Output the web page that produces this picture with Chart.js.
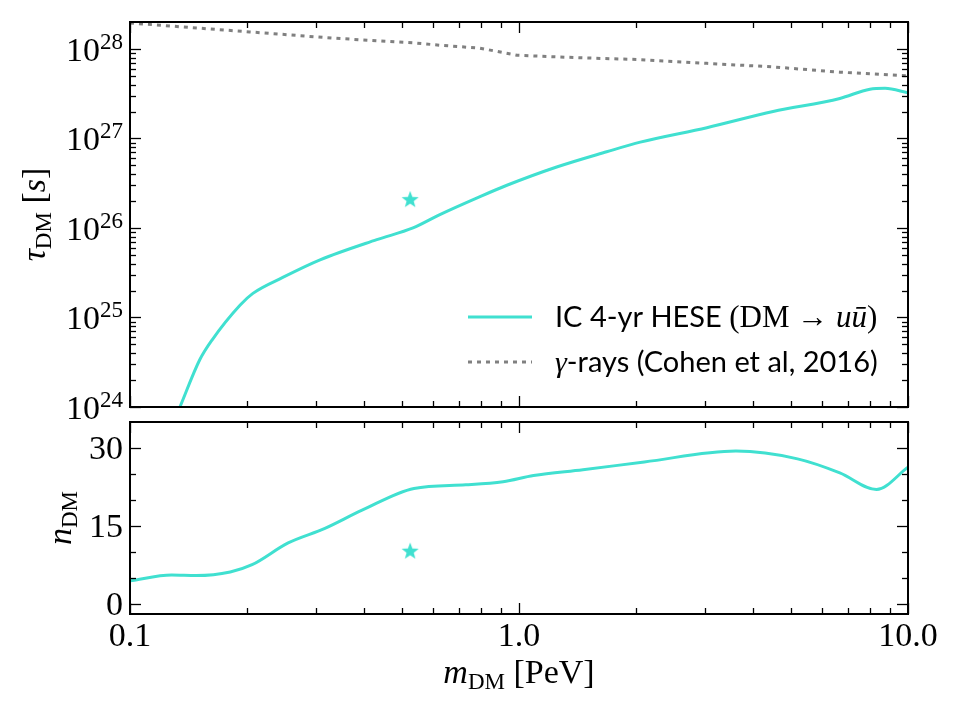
<!DOCTYPE html>
<html>

<head>
    <title>DM lifetime limits</title>
    <script src="https://cdn.jsdelivr.net/npm/chart.js"></script>
    <style>
        body { margin: 0; background: #fff; }
        #wrap { position: relative; width: 960px; height: 720px; }
        #wrap canvas { position: absolute; left: 0; top: 0; }
    </style>
</head>

<body>
    <div id="wrap">
        <canvas id="tauChart" width="960" height="720"></canvas>
        <canvas id="nChart" width="960" height="720"></canvas>
    </div>

    <script>
        // IceCube 4-yr HESE lifetime limit (DM -> u ubar), seconds
        var massIC = [0.1344, 0.151, 0.1625, 0.192, 0.207, 0.247, 0.308, 0.431, 0.534, 0.626, 0.794, 0.931, 1.25, 1.68, 2.05, 3.04, 4.5, 6.68, 7.98, 8.73, 10];
        var tauIC = [1.0e24, 3.35e24, 5.6e24, 1.38e25, 1.86e25, 2.8e25, 4.4e25, 7.4e25, 1.0e26, 1.41e26, 2.24e26, 3.0e26, 4.8e26, 7.1e26, 9.1e26, 1.32e27, 2.0e27, 2.8e27, 3.55e27, 3.63e27, 3.24e27];

        // gamma-ray limit (Cohen et al, 2016)
        var massGamma = [0.1, 0.203, 0.333, 0.534, 0.626, 0.794, 0.988, 1.4, 2.05, 3.04, 4.5, 6.68, 10];
        var tauGamma = [1.95e28, 1.55e28, 1.32e28, 1.17e28, 1.10e28, 1.02e28, 8.5e27, 8.0e27, 7.6e27, 6.9e27, 6.3e27, 5.5e27, 5.0e27];

        // spectral index n_DM
        var massN = [0.1, 0.128, 0.148, 0.181, 0.206, 0.255, 0.317, 0.395, 0.537, 0.73, 0.91, 1.09, 1.46, 2.1, 3.61, 5.2, 6.68, 8.3, 10];
        var nIC = [4.4, 5.5, 5.4, 6.1, 7.5, 11.7, 14.5, 18.0, 22.2, 22.9, 23.5, 24.7, 25.8, 27.3, 29.4, 27.9, 25.2, 22.0, 26.3];

        // best fit point
        var starMass = [0.525];
        var starTau = [2.1e26];
        var starN = [10.2];

        // ticks
        var xMajor = [0.1, 1, 10];
        var xTickLabels = ['0.1', '1.0', '10.0'];
        var tauExponents = [24, 25, 26, 27, 28];
        var nMajor = [0, 15, 30];
        var nMinor = [5, 10, 20, 25];

        var TURQ = '#40E0D0';
        var SERIF = '"Liberation Serif", "DejaVu Serif", serif';
        var SANS = 'Lato, "Open Sans", sans-serif';

        var xMinor = [];
        [0.1, 1].forEach(function (d) {
            for (var k = 2; k <= 9; k++) xMinor.push(k * d);
        });
        var tauMajor = tauExponents.map(function (e) { return Math.pow(10, e); });
        var tauMinor = [];
        tauExponents.slice(0, 4).forEach(function (e) {
            for (var k = 2; k <= 9; k++) tauMinor.push(k * Math.pow(10, e));
        });

        function pairs(xs, ys) {
            return xs.map(function (v, i) { return { x: v, y: ys[i] }; });
        }

        // filled five point star for the marker
        function makeStar(r, color) {
            var c = document.createElement('canvas');
            c.width = c.height = 2 * r + 2;
            var g = c.getContext('2d');
            g.fillStyle = color;
            g.beginPath();
            for (var i = 0; i < 10; i++) {
                var rad = i % 2 ? r * 0.42 : r;
                var a = -Math.PI / 2 + i * Math.PI / 5;
                g.lineTo(r + 1 + rad * Math.cos(a), r + 1.8 + rad * Math.sin(a));
            }
            g.closePath();
            g.fill();
            return c;
        }
        var starImg = makeStar(9, TURQ);

        // draw text made of several pieces (fonts / offsets)
        function drawRich(ctx, parts, x, y, align) {
            var w = 0;
            parts.forEach(function (p) { ctx.font = p.font; w += ctx.measureText(p.t).width; });
            var cx = align === 'center' ? x - w / 2 : (align === 'right' ? x - w : x);
            ctx.textAlign = 'left';
            ctx.textBaseline = 'alphabetic';
            parts.forEach(function (p) {
                ctx.font = p.font;
                ctx.fillText(p.t, cx, y + (p.dy || 0));
                cx += ctx.measureText(p.t).width;
            });
        }

        function line(ctx, x1, y1, x2, y2) {
            ctx.beginPath();
            ctx.moveTo(x1, y1);
            ctx.lineTo(x2, y2);
            ctx.stroke();
        }

        // inward ticks on all four sides + frame, like matplotlib
        function drawFrame(chart, yMaj, yMin) {
            var ctx = chart.ctx, a = chart.chartArea;
            var xs = chart.scales.x, ys = chart.scales.y;
            ctx.save();
            ctx.strokeStyle = '#000';
            ctx.lineWidth = 1.3;
            function xt(v, len) {
                var p = Math.round(xs.getPixelForValue(v)) + 0.5;
                line(ctx, p, a.bottom, p, a.bottom - len);
                line(ctx, p, a.top, p, a.top + len);
            }
            function yt(v, len) {
                var p = Math.round(ys.getPixelForValue(v)) + 0.5;
                line(ctx, a.left, p, a.left + len, p);
                line(ctx, a.right, p, a.right - len, p);
            }
            xMajor.forEach(function (v) { xt(v, 11); });
            xMinor.forEach(function (v) { xt(v, 6); });
            yMaj.forEach(function (v) { yt(v, 11); });
            yMin.forEach(function (v) { yt(v, 6); });
            ctx.lineWidth = 2;
            ctx.strokeRect(a.left, a.top, a.right - a.left, a.bottom - a.top);
            ctx.restore();
        }

        function rotatedTitle(ctx, parts, bx, cy) {
            ctx.save();
            ctx.translate(bx, cy);
            ctx.rotate(-Math.PI / 2);
            drawRich(ctx, parts, 0, 0, 'center');
            ctx.restore();
        }

        var tauDecor = {
            id: 'tauDecor',
            afterDatasetsDraw: function (chart) {
                var ctx = chart.ctx, a = chart.chartArea, ys = chart.scales.y;
                drawFrame(chart, tauMajor, tauMinor);
                ctx.save();
                ctx.fillStyle = '#000';
                tauExponents.forEach(function (e) {
                    var p = ys.getPixelForValue(Math.pow(10, e));
                    drawRich(ctx, [
                        { t: '10', font: '34px ' + SERIF, dy: 12 },
                        { t: String(e), font: '23px ' + SERIF, dy: 0 }
                    ], 123, p, 'right');
                });
                rotatedTitle(ctx, [
                    { t: '\u03C4', font: 'italic 34px ' + SERIF },
                    { t: 'DM', font: '23px ' + SERIF, dy: 6 },
                    { t: ' [', font: '34px ' + SERIF },
                    { t: 's', font: 'italic 34px ' + SERIF },
                    { t: ']', font: '34px ' + SERIF }
                ], 45, (a.top + a.bottom) / 2);

                // legend
                ctx.lineWidth = 3;
                ctx.strokeStyle = TURQ;
                line(ctx, 468, 317, 532, 317);
                ctx.strokeStyle = '#808080';
                ctx.lineWidth = 3;
                ctx.setLineDash([4, 5]);
                line(ctx, 468, 362, 532, 362);
                ctx.setLineDash([]);
                drawRich(ctx, [
                    { t: 'IC 4-yr HESE ', font: '29px ' + SANS },
                    { t: '(DM \u2192 ', font: '31px ' + SERIF },
                    { t: 'u\u016B', font: 'italic 31px ' + SERIF },
                    { t: ')', font: '31px ' + SERIF }
                ], 555, 327, 'left');
                drawRich(ctx, [
                    { t: '\u03B3', font: 'italic 30px ' + SERIF },
                    { t: '-rays (Cohen et al, 2016)', font: '29px ' + SANS }
                ], 555, 372, 'left');
                ctx.restore();
            }
        };

        var nDecor = {
            id: 'nDecor',
            afterDatasetsDraw: function (chart) {
                var ctx = chart.ctx, a = chart.chartArea, xs = chart.scales.x, ys = chart.scales.y;
                drawFrame(chart, nMajor, nMinor);
                ctx.save();
                ctx.fillStyle = '#000';
                ctx.font = '34px ' + SERIF;
                ctx.textAlign = 'right';
                ctx.textBaseline = 'alphabetic';
                nMajor.forEach(function (v) {
                    ctx.fillText(String(v), 123, ys.getPixelForValue(v) + 11);
                });
                ctx.textAlign = 'center';
                xMajor.forEach(function (v, i) {
                    ctx.fillText(xTickLabels[i], xs.getPixelForValue(v), 646);
                });
                rotatedTitle(ctx, [
                    { t: 'n', font: 'italic 34px ' + SERIF },
                    { t: 'DM', font: '23px ' + SERIF, dy: 6 }
                ], 71, (a.top + a.bottom) / 2);
                drawRich(ctx, [
                    { t: 'm', font: 'italic 34px ' + SERIF },
                    { t: 'DM', font: '23px ' + SERIF, dy: 6 },
                    { t: ' [PeV]', font: '34px ' + SERIF }
                ], (a.left + a.right) / 2, 683, 'center');
                ctx.restore();
            }
        };

        var common = {
            responsive: false,
            animation: false,
            plugins: { legend: { display: false }, tooltip: { enabled: false } },
            elements: { point: { radius: 0 } }
        };

        new Chart(document.getElementById('tauChart'), {
            type: 'line',
            data: {
                datasets: [{
                    label: 'IC 4-yr HESE (DM -> u ubar)',
                    data: pairs(massIC, tauIC),
                    borderColor: TURQ,
                    borderWidth: 3,
                    pointRadius: 0,
                    cubicInterpolationMode: 'monotone'
                }, {
                    label: 'gamma-rays (Cohen et al, 2016)',
                    data: pairs(massGamma, tauGamma),
                    borderColor: '#808080',
                    borderWidth: 3,
                    borderDash: [4, 5],
                    pointRadius: 0
                }, {
                    label: 'best fit',
                    data: pairs(starMass, starTau),
                    showLine: false,
                    pointStyle: starImg,
                    pointRadius: 9
                }]
            },
            options: Object.assign({}, common, {
                layout: { padding: { left: 130, right: 52, top: 22, bottom: 313 } },
                scales: {
                    x: { type: 'logarithmic', min: 0.1, max: 10, display: false },
                    y: { type: 'logarithmic', min: 1e24, max: 2e28, display: false }
                }
            }),
            plugins: [tauDecor]
        });

        new Chart(document.getElementById('nChart'), {
            type: 'line',
            data: {
                datasets: [{
                    label: 'n_DM',
                    data: pairs(massN, nIC),
                    borderColor: TURQ,
                    borderWidth: 3,
                    pointRadius: 0,
                    cubicInterpolationMode: 'monotone'
                }, {
                    label: 'best fit',
                    data: pairs(starMass, starN),
                    showLine: false,
                    pointStyle: starImg,
                    pointRadius: 9
                }]
            },
            options: Object.assign({}, common, {
                layout: { padding: { left: 130, right: 52, top: 422, bottom: 106 } },
                scales: {
                    x: { type: 'logarithmic', min: 0.1, max: 10, display: false },
                    y: { type: 'linear', min: -2, max: 35, display: false }
                }
            }),
            plugins: [nDecor]
        });
    </script>
</body>

</html>
